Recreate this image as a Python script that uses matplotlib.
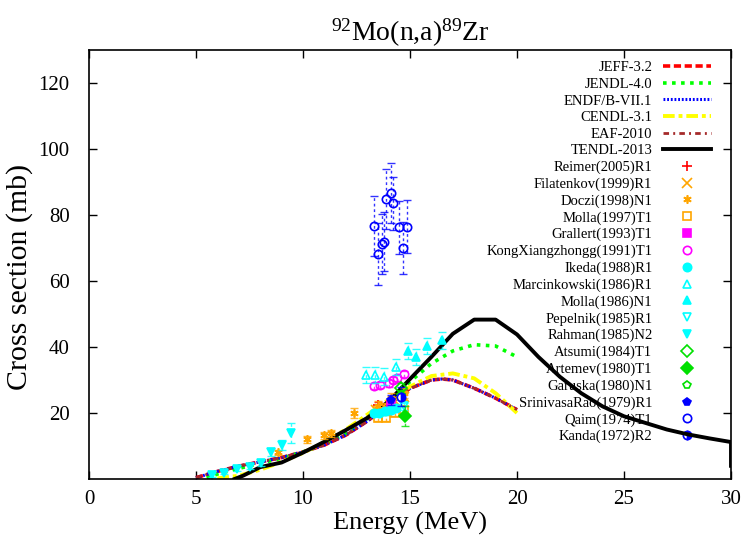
import matplotlib
matplotlib.use("Agg")
import matplotlib.pyplot as plt

plt.rcParams['font.family'] = ['Liberation Serif', 'DejaVu Serif']
plt.rcParams['mathtext.fontset'] = 'custom'
plt.rcParams['mathtext.rm'] = 'Liberation Serif'
plt.rcParams['mathtext.it'] = 'Liberation Serif:italic'

# ---------------- evaluated data ----------------
E_jeff = [5, 6, 7, 8, 9, 10, 11, 12, 13, 14, 15, 16, 16.5, 17, 18, 19, 20]
s_jeff = [0.4, 2.3, 3.9, 5.2, 6.5, 8.2, 10.3, 13.3, 17.5, 22.5, 27.5, 30, 30.3, 30, 27.5, 24.5, 21]

E_jendl = [5.5, 6, 7, 8, 9, 10, 11, 12, 13, 14, 15, 16, 17, 18, 19, 20]
s_jendl = [0.3, 1.5, 3.2, 4.8, 6.3, 8.2, 10.5, 13.8, 18.3, 23.5, 29.5, 35, 38.8, 40.7, 40.3, 37]

E_endf = [5, 6, 7, 8, 9, 10, 11, 12, 13, 14, 15, 16, 16.5, 17, 18, 19, 20]
s_endf = [0.4, 2.3, 3.9, 5.2, 6.5, 8.2, 10.3, 13.3, 17.5, 22.5, 27.5, 30, 30.3, 30, 27.5, 24.5, 21]

E_cendl = [6, 7, 8, 9, 10, 11, 12, 13, 14, 15, 16, 17, 18, 19, 20]
s_cendl = [0.2, 1.0, 2.8, 5.2, 7.9, 11.2, 15, 19.5, 24, 28, 31.2, 32, 30.5, 26, 20]

E_eaf = [5, 6, 7, 8, 9, 10, 11, 12, 13, 14, 15, 16, 16.5, 17, 18, 19, 20]
s_eaf = [0.4, 2.3, 3.9, 5.2, 6.5, 8.2, 10.3, 13.3, 17.5, 22.5, 27.5, 30, 30.3, 30, 27.5, 24.5, 21]

E_tendl = [6.8, 7.2, 8, 9, 10, 11, 12, 13, 14, 15, 16, 17, 18, 19, 20, 21, 22, 23, 24, 25, 26, 27, 28, 29, 30, 30]
s_tendl = [0, 1, 3.6, 5, 8, 11.3, 14.8, 18.5, 23.5, 30.3, 37, 44, 48.3, 48.3, 43.8, 37, 31, 26, 22, 19, 17, 15, 13.5, 12.3, 11.2, 4]

# ---------------- experimental data ----------------
reimer_E = [13.5, 14.1]
reimer_s = [22.3, 23.5]
reimer_d = [1.0, 1.0]

filat_E = [13.4, 13.8, 14.3, 14.7]
filat_s = [21, 22, 23.5, 25]
filat_d = [1.0, 1.0, 1.0, 1.0]

doczi_E = [8.85, 10.2, 11.0, 11.3, 12.4, 13.5, 14.1, 14.7]
doczi_s = [8.1, 12, 13.2, 13.8, 20, 22, 24.5, 26]
doczi_d = [0.8, 1.0, 1.0, 1.0, 1.5, 1.5, 1.5, 1.5]

molla97_E = [13.5, 13.9, 14.3, 14.7]
molla97_s = [18.5, 18.5, 20, 21]
molla97_d = [1.0, 1.0, 1.0, 1.0]

grall_E = [14.1]
grall_s = [22.5]
grall_d = [1.0]

kong_E = [13.3, 13.6, 14.0, 14.2, 14.4, 14.7]
kong_s = [28.2, 28.5, 29, 30, 30.6, 31.8]
kong_d = [1.0, 1.0, 1.0, 1.0, 1.0, 1.0]

ikeda_E = [13.3, 13.55, 13.85, 14.1, 14.35]
ikeda_s = [20, 20, 20.5, 21, 21.5]
ikeda_d = [1.0, 1.0, 1.0, 1.0, 1.0]

marc_E = [12.95, 13.35, 13.8, 14.35]
marc_s = [31.5, 31.5, 31, 34]
marc_d = [2.5, 2.5, 2.5, 2.5]

molla86_E = [14.9, 15.3, 15.8, 16.5]
molla86_s = [38.8, 37, 40.3, 42]
molla86_d = [2.5, 2.5, 2.5, 2.5]

pepel_E = [14.7]
pepel_s = [22]
pepel_d = [1.0]

rahman_E = [5.76, 6.3, 6.9, 7.5, 8.05, 8.5, 9.0, 9.45]
rahman_s = [1.2, 1.9, 3.0, 3.7, 4.8, 8.3, 10.3, 13.9]
rahman_d = [0.5, 0.5, 0.6, 0.7, 1.0, 1.2, 1.5, 3.0]

atsumi_E = [14.6]
atsumi_s = [27.5]
atsumi_d = [1.5]

artem_E = [14.75]
artem_s = [19]
artem_d = [3.0]

garus_E = [14.6]
garus_s = [25.5]
garus_d = [1.5]

srini_E = [14.1]
srini_s = [24]
srini_d = [1.5]

qaim_E = [14.09, 13.9, 14.2, 13.33, 14.5, 14.85, 13.8, 13.7, 14.66, 13.5]
qaim_s = [86.7, 84.8, 83.6, 76.7, 76.3, 76.4, 71.9, 71.2, 70, 68.2]
qaim_d = [9, 9, 8, 9, 8, 8, 9, 9, 8, 9.5]

kanda_E = [14.6]
kanda_s = [25]
kanda_d = [3.0]

fig = plt.figure(figsize=(7.44, 5.39), dpi=100)
ax = fig.add_axes([89/744, 60/539, 642/744, 429/539])

ax.plot(E_jeff, s_jeff, color='#ff0000', lw=2.6, ls=(0, (2, 1)), label='JEFF-3.2')
ax.plot(E_jendl, s_jendl, color='#00ff00', lw=2.6, ls=(0, (1, 1.5)), label='JENDL-4.0')
ax.plot(E_endf, s_endf, color='#0000ff', lw=2.2, ls=(0, (0.6, 0.6)), label='ENDF/B-VII.1')
ax.plot(E_cendl, s_cendl, color='#ffff00', lw=2.8, ls=(0, (3, 1, 1, 1)), label='CENDL-3.1')
ax.plot(E_eaf, s_eaf, color='#a52a2a', lw=2.0, ls=(0, (2, 1.5, 0.7, 1.5)), label='EAF-2010')
ax.plot(E_tendl, s_tendl, color='black', lw=2.8, label='TENDL-2013')

exp_sets = [
    ('Reimer(2005)R1', reimer_E, reimer_s, reimer_d, '#ff0000', '+', True),
    ('Filatenkov(1999)R1', filat_E, filat_s, filat_d, '#ffa500', 'x', True),
    ('Doczi(1998)N1', doczi_E, doczi_s, doczi_d, '#ffa500', (6, 2, 0), True),
    ('Molla(1997)T1', molla97_E, molla97_s, molla97_d, '#ffa500', 's', False),
    ('Grallert(1993)T1', grall_E, grall_s, grall_d, '#ff00ff', 's', True),
    ('KongXiangzhongg(1991)T1', kong_E, kong_s, kong_d, '#ff00ff', 'o', False),
    ('Ikeda(1988)R1', ikeda_E, ikeda_s, ikeda_d, '#00ffff', 'o', True),
    ('Marcinkowski(1986)R1', marc_E, marc_s, marc_d, '#00ffff', '^', False),
    ('Molla(1986)N1', molla86_E, molla86_s, molla86_d, '#00ffff', '^', True),
    ('Pepelnik(1985)R1', pepel_E, pepel_s, pepel_d, '#00ffff', 'v', False),
    ('Rahman(1985)N2', rahman_E, rahman_s, rahman_d, '#00ffff', 'v', True),
    ('Atsumi(1984)T1', atsumi_E, atsumi_s, atsumi_d, '#00e000', 'D', False),
    ('Artemev(1980)T1', artem_E, artem_s, artem_d, '#00e000', 'D', True),
    ('Garuska(1980)N1', garus_E, garus_s, garus_d, '#00e000', 'p', False),
    ('SrinivasaRao(1979)R1', srini_E, srini_s, srini_d, '#0000ff', 'p', True),
    ('Qaim(1974)T1', qaim_E, qaim_s, qaim_d, '#0000ff', 'o', False),
    ('Kanda(1972)R2', kanda_E, kanda_s, kanda_d, '#0000ff', 'o', 'half'),
]

for label, E, s, d, col, mk, filled in exp_sets:
    eb = ax.errorbar(E, s, yerr=d, fmt='none', ecolor=col, elinewidth=1.0,
                     capsize=3, capthick=1.0, alpha=0.8)
    for c in eb[2]:
        c.set_linestyle((0, (2, 2)))
    kw = dict(ls='none', marker=mk, color=col, markersize=6 if mk not in ('+', 'x') else 7,
              markeredgewidth=1.2, label=label)
    if filled is False:
        kw['markerfacecolor'] = 'none'
    elif filled == 'half':
        kw['fillstyle'] = 'right'
        kw['markerfacecoloralt'] = 'white'
    ax.plot(E, s, **kw)

ax.set_xlim(0, 30)
ax.set_ylim(0, 130)
ax.set_xticks([0, 5, 10, 15, 20, 25, 30])
ax.set_yticks([20, 40, 60, 80, 100, 120])
ax.tick_params(direction='in', length=6, width=1, top=True, right=True, labelsize=15)
ax.tick_params(axis='x', pad=8)
ax.tick_params(axis='y', pad=14)
for sp in ax.spines.values():
    sp.set_linewidth(1.2)

ax.set_xlabel('Energy (MeV)', fontsize=19, labelpad=2)
ax.set_ylabel('Cross section (mb)', fontsize=21.5, labelpad=6)
ax.yaxis.set_label_coords(-0.087, 0.47)
ax.set_title(r'$^{92}$Mo(n,a)$^{89}$Zr', fontsize=20, pad=7)

leg = ax.legend(loc='upper right', bbox_to_anchor=(1.0 - 10 / 642, 1.0 - 1 / 429), frameon=False,
                markerfirst=False, fontsize=10.5, labelspacing=0.23, handlelength=3.3,
                handletextpad=0.7, borderaxespad=0.4, numpoints=1, borderpad=0.3)
leg.set_zorder(1)

fig.savefig('out.png', dpi=100)
